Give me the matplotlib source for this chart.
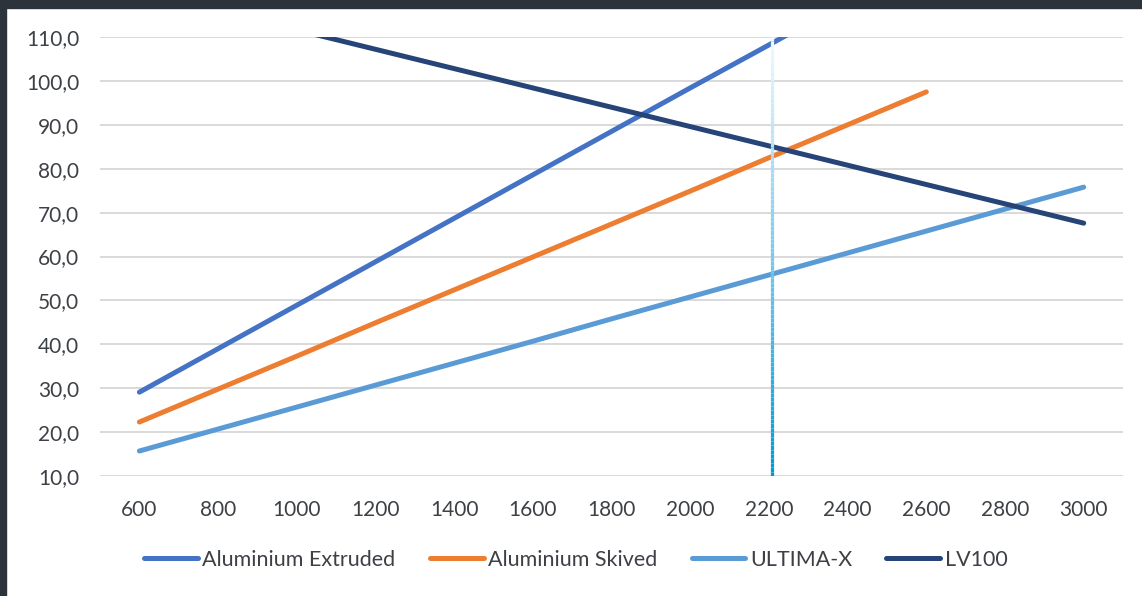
import numpy as np
import matplotlib
matplotlib.use('Agg')
import matplotlib.pyplot as plt
from matplotlib.collections import LineCollection
from matplotlib.patches import Rectangle

plt.rcParams['font.family'] = ['Lato', 'DejaVu Sans']

# data
x_vals = [600, 800, 1000, 1200, 1400, 1600, 1800, 2000, 2200, 2400, 2600, 2800, 3000]
alu_extruded = [29.1, 39.0, 48.9, 58.8, 68.7, 78.6, 88.5, 98.4, 108.2, 118.1, 128.0, 137.9, 147.8]
alu_skived = [22.3, 29.8, 37.3, 44.9, 52.4, 59.9, 67.4, 74.9, 82.5, 90.0, 97.5]
ultima_x = [15.7, 20.7, 25.7, 30.7, 35.7, 40.7, 45.8, 50.8, 55.8, 60.8, 65.8, 70.8, 75.8]
lv100 = [120.4, 116.0, 111.6, 107.2, 102.8, 98.4, 94.0, 89.6, 85.2, 80.8, 76.4, 72.0, 67.6]
y_ticks = [10, 20, 30, 40, 50, 60, 70, 80, 90, 100, 110]
marker_x = 2208

series = [
    ('Aluminium Extruded', alu_extruded, '#4472c4'),
    ('Aluminium Skived', alu_skived, '#ed7d31'),
    ('ULTIMA-X', ultima_x, '#5b9bd5'),
    ('LV100', lv100, '#264478'),
]

fig = plt.figure(figsize=(11.42, 5.96), dpi=100)
ax = fig.add_axes([0.0876, 0.2013, 0.8958, 0.7366])

# dark frame of the screenshot
fig.patches.append(Rectangle((0, 1 - 8 / 596), 1, 8 / 596, transform=fig.transFigure,
                             color='#2d333b', zorder=0))
fig.patches.append(Rectangle((0, 0), 6 / 1142, 1, transform=fig.transFigure,
                             color='#2d333b', zorder=0))

for name, vals, col in series:
    ax.plot(x_vals[:len(vals)], vals, color=col, lw=3.6, label=name,
            solid_capstyle='round', zorder=3)

# gradient vertical marker
n = 100
ys = np.linspace(y_ticks[0], y_ticks[-1], n + 1)
segs = [[(marker_x, ys[i]), (marker_x, ys[i + 1])] for i in range(n)]
c0 = np.array([0x00, 0x99, 0xd8]) / 255
c1 = np.array([0xf2, 0xf9, 0xfd]) / 255
cols = [c0 + (c1 - c0) * (i / (n - 1)) for i in range(n)]
ax.add_collection(LineCollection(segs, colors=cols, linewidths=2.3, zorder=4))

ax.set_xlim(500, 3100)
ax.set_ylim(10, 110)
ax.set_xticks(x_vals)
ax.set_xticklabels([str(v) for v in x_vals])
ax.set_yticks(y_ticks)
ax.set_yticklabels([f'{v:.1f}'.replace('.', ',') for v in y_ticks])
ax.grid(axis='y', color='#d9d9d9', lw=1.4)
ax.set_axisbelow(True)
for s in ax.spines.values():
    s.set_visible(False)
ax.tick_params(length=0, labelsize=15, colors='#3d4146')
ax.tick_params(axis='y', pad=15)
ax.tick_params(axis='x', pad=17)

ax.legend(loc='center', bbox_to_anchor=(0.465, -0.191), ncol=4, frameon=False,
          fontsize=15.5, labelcolor='#3d4146', handlelength=2.5, handletextpad=0.2,
          columnspacing=1.6)

fig.savefig('out.png', dpi=100)
